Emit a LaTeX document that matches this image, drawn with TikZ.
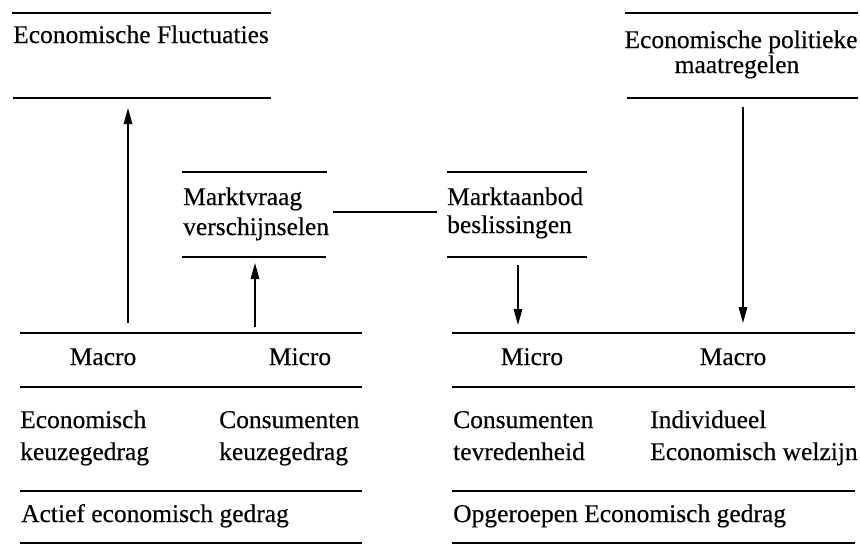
\documentclass[tikz,border=0pt]{standalone}
\usepackage{fontspec}
\setmainfont{Liberation Serif}[FakeBold=0.35]
\usetikzlibrary{arrows.meta}
\tikzset{
  rule/.style={line width=2.2pt},
  flow/.style={line width=1.6pt,-{Triangle[length=16pt,width=8.5pt]}},
  lbl/.style={inner sep=0pt,font=\fontsize{25.5}{30}\selectfont},
  lw/.style={lbl,anchor=base west},
  lc/.style={lbl,anchor=base},
}
\begin{document}
\begin{tikzpicture}[x=1pt,y=-1pt]
\useasboundingbox (0,0) rectangle (860,544);
% top left box
\draw[rule] (12,13) -- (271,13);
\draw[rule] (13,98) -- (271,98);
\node[lw] (fluct) at (13,43) {Economische Fluctuaties};
% top right box
\draw[rule] (625,13) -- (858,13);
\draw[rule] (627,98) -- (858,98);
\node[lc] (pol1) at (741,48) {Economische politieke};
\node[lc] (pol2) at (737,73) {maatregelen};
% Marktvraag box
\draw[rule] (182,172) -- (327,172);
\draw[rule] (182,257) -- (326,257);
\node[lw] (mv1) at (183,205) {Marktvraag};
\node[lw] (mv2) at (183,235) {verschijnselen};
% Marktaanbod box
\draw[rule] (447,172) -- (587,172);
\draw[rule] (447,257) -- (587,257);
\node[lw] (ma1) at (447,205) {Marktaanbod};
\node[lw] (ma2) at (447,233) {beslissingen};
% connector between boxes
\coordinate (cl) at (333,212);
\coordinate (cr) at (437,212);
\draw[rule] (cl) -- (cr);
% bottom left table
\draw[rule] (20,333) -- (362,333);
\draw[rule] (20,387) -- (362,387);
\draw[rule] (20,491) -- (362,491);
\draw[rule] (20,543) -- (362,543);
\node[lc] (macL) at (103,365) {Macro};
\node[lc] (micL) at (300,365) {Micro};
\node[lw] (ek1) at (20,428) {Economisch};
\node[lw] (ek2) at (20,460) {keuzegedrag};
\node[lw] (ck1) at (219,428) {Consumenten};
\node[lw] (ck2) at (219,460) {keuzegedrag};
\node[lw] (act) at (21,522) {Actief economisch gedrag};
% bottom right table
\draw[rule] (452,333) -- (855,333);
\draw[rule] (452,387) -- (855,387);
\draw[rule] (452,491) -- (855,491);
\draw[rule] (452,543) -- (855,543);
\node[lc] (micR) at (532,365) {Micro};
\node[lc] (macR) at (733,365) {Macro};
\node[lw] (ct1) at (453,428) {Consumenten};
\node[lw] (ct2) at (453,460) {tevredenheid};
\node[lw] (iw1) at (650,428) {Individueel};
\node[lw] (iw2) at (650,460) {Economisch welzijn};
\node[lw] (opg) at (453,522) {Opgeroepen Economisch gedrag};
% arrows
\coordinate (a1s) at (128,323);
\coordinate (a1e) at (128,108);
\coordinate (a2s) at (255,327);
\coordinate (a2e) at (255,263);
\coordinate (a3s) at (518,265);
\coordinate (a3e) at (518,325);
\coordinate (a4s) at (743,107);
\coordinate (a4e) at (743,323);
\draw[flow] (a1s) -- (a1e);
\draw[flow] (a2s) -- (a2e);
\draw[flow] (a3s) -- (a3e);
\draw[flow] (a4s) -- (a4e);
\end{tikzpicture}
\end{document}
